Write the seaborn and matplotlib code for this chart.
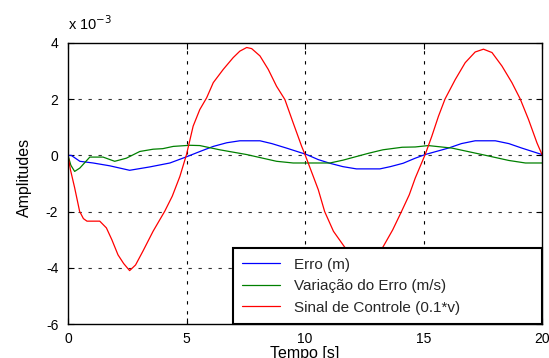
import numpy as np
import pandas as pd
import matplotlib
matplotlib.use("Agg")
import matplotlib.pyplot as plt
import seaborn as sns

SCALE = 1e-3

# Erro (m)  [x 10^-3]
t_erro = [0, 0.14, 0.5, 1.06, 1.76, 2.6, 3.45, 4.3, 5.0, 5.6, 6.13, 6.7, 7.25, 8.1, 8.6,
          9.22, 10.07, 10.56, 11.05, 11.6, 12.17, 13.16, 13.6, 14.14, 14.65, 15.07, 16.05,
          16.6, 17.18, 18.03, 18.6, 19.15, 20.0]
v_erro = [0, 0.0, -0.21, -0.27, -0.37, -0.53, -0.41, -0.27, -0.05, 0.15, 0.32, 0.45, 0.52,
          0.52, 0.42, 0.26, 0.03, -0.15, -0.28, -0.4, -0.48, -0.48, -0.4, -0.28, -0.1, 0.03,
          0.26, 0.42, 0.52, 0.52, 0.42, 0.26, 0.03]

# Variacao do Erro (m/s)  [x 10^-3]
t_var = [0, 0.12, 0.28, 0.5, 0.92, 1.48, 1.97, 2.46, 3.03, 3.59, 4.0, 4.44, 5.14, 5.56, 6.4,
         7.54, 8.8, 9.5, 10.56, 11.05, 11.6, 12.17, 12.7, 13.29, 14.1, 14.65, 15.2, 16.2,
         17.47, 18.6, 19.3, 20.0]
v_var = [0, -0.35, -0.57, -0.45, -0.06, -0.06, -0.21, -0.1, 0.14, 0.22, 0.24, 0.32, 0.36,
         0.35, 0.2, 0.03, -0.21, -0.27, -0.27, -0.27, -0.17, -0.04, 0.08, 0.2, 0.29, 0.3,
         0.35, 0.26, 0.03, -0.18, -0.27, -0.27]

# Sinal de Controle (0.1*v)  [x 10^-3]
t_ctrl = [0, 0.1, 0.28, 0.49, 0.65, 0.8, 1.34, 1.62, 1.85, 2.11, 2.35, 2.6, 2.85, 3.16, 3.59,
          4.08, 4.4, 4.72, 5.0, 5.28, 5.56, 5.85, 6.13, 6.55, 6.97, 7.25, 7.54, 7.75, 8.1,
          8.45, 8.8, 9.15, 9.5, 9.86, 10.0, 10.35, 10.56, 10.83, 11.2, 11.67, 12.1, 12.5,
          12.9, 13.29, 13.7, 14.07, 14.4, 14.65, 15.07, 15.35, 15.63, 15.91, 16.34, 16.76,
          17.18, 17.53, 17.89, 18.31, 18.73, 19.08, 19.43, 19.79, 20.0]
v_ctrl = [0, -0.5, -1.15, -1.99, -2.25, -2.34, -2.34, -2.58, -3.0, -3.54, -3.85, -4.1, -3.9,
          -3.41, -2.7, -1.99, -1.45, -0.75, 0.03, 1.04, 1.63, 2.05, 2.59, 3.06, 3.48, 3.71,
          3.84, 3.8, 3.54, 3.06, 2.46, 1.99, 1.16, 0.32, 0.03, -0.75, -1.22, -2.0, -2.7,
          -3.26, -3.65, -3.8, -3.65, -3.26, -2.65, -2.0, -1.4, -0.81, 0.03, 0.68, 1.39, 2.01,
          2.7, 3.3, 3.68, 3.78, 3.66, 3.18, 2.59, 2.01, 1.28, 0.44, 0.03]

labels = ["Erro (m)", "Variação do Erro (m/s)", "Sinal de Controle (0.1*v)"]
colors = ["#0000ff", "#008000", "#ff0000"]
x_ticks = [0, 5, 10, 15, 20]
y_ticks = [-6, -4, -2, 0, 2, 4]

frames = []
for lab, t, v in zip(labels, [t_erro, t_var, t_ctrl], [v_erro, v_var, v_ctrl]):
    frames.append(pd.DataFrame({"t": t, "v": np.array(v) * SCALE, "serie": lab}))
df = pd.concat(frames, ignore_index=True)

sns.set_theme(style="white")
plt.rcParams['font.family'] = ['Liberation Sans', 'DejaVu Sans']

W, H = 549, 358
fig = plt.figure(figsize=(W / 100, H / 100), dpi=100)
ax = fig.add_axes([68 / W, (H - 324) / H, (542 - 68) / W, (324 - 43) / H])

sns.lineplot(data=df, x="t", y="v", hue="serie", hue_order=labels,
             palette=dict(zip(labels, colors)), sort=False, estimator=None,
             linewidth=0.9, ax=ax)

ax.set_xlim(0, 20)
ax.set_ylim(-6 * SCALE, 4 * SCALE)
ax.set_xticks(x_ticks)
ax.set_xticklabels([str(x) for x in x_ticks])
ax.set_yticks([y * SCALE for y in y_ticks])
ax.set_yticklabels([str(y) for y in y_ticks])

for x in x_ticks[1:-1]:
    ax.axvline(x, color="black", linestyle=(0, (3, 6)), linewidth=0.8, zorder=0)
for y in y_ticks[1:-1]:
    ax.axhline(y * SCALE, color="#333333", linestyle=(0, (3, 6)), linewidth=0.8, zorder=0)

for s in ax.spines.values():
    s.set_color("black")
    s.set_linewidth(1.0)
    s.set_visible(True)

ax.tick_params(axis="both", direction="in", length=4, width=0.8, colors="black",
               labelsize=10, top=True, right=True, bottom=True, left=True)
ax.tick_params(axis="y", pad=7)
ax.tick_params(axis="x", pad=6)

ax.set_xlabel("Tempo [s]", fontsize=11.5, color="black", labelpad=0)
ax.set_ylabel("Amplitudes", fontsize=11.5, color="black")
ax.yaxis.set_label_coords((32 - 68) / 474, (324 - 177) / 281)

ax.text(0.0, 1.035, "x 10$^{-3}$", transform=ax.transAxes, fontsize=10.5,
        ha="left", va="bottom", color="black")

leg = ax.legend(loc="lower left", bbox_to_anchor=((233 - 68) / 474, 0, (542 - 233) / 474, 0.3),
                mode="expand", borderaxespad=0, fontsize=11, frameon=True,
                fancybox=False, handlelength=2.5, handletextpad=0.9, labelspacing=0.5,
                borderpad=0.6)
leg.get_frame().set_edgecolor("black")
leg.get_frame().set_linewidth(1.5)
leg.get_frame().set_alpha(1.0)
leg.set_title(None)

fig.savefig("out.png", dpi=100)
